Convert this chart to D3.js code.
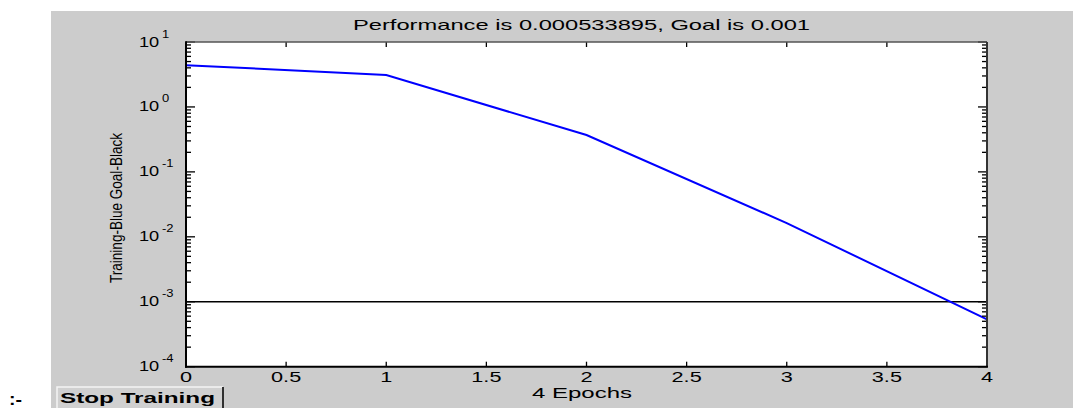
<!DOCTYPE html>
<html>
<head>
<meta charset="utf-8">
<script src="https://cdn.jsdelivr.net/npm/d3@7"></script>
<style>
  html, body { margin: 0; padding: 0; background: #ffffff; }
  svg { display: block; }
  text { font-family: "Liberation Sans", Arial, sans-serif; fill: #000; }
</style>
</head>
<body>
<svg id="chart" width="1073" height="408"></svg>
<script>
// ---- data ----
const epochs = [0, 1, 2, 3, 4];
const performance = [4.4, 3.1, 0.369, 0.0163, 0.000533895];
const goal = 0.001;
const xTicks = [0, 0.5, 1, 1.5, 2, 2.5, 3, 3.5, 4];
const xTickLabels = ["0", "0.5", "1", "1.5", "2", "2.5", "3", "3.5", "4"];
const yDecades = [1, 0, -1, -2, -3, -4];
const titleText = "Performance is 0.000533895, Goal is 0.001";
const xLabelText = "4 Epochs";
const yLabelText = "Training-Blue  Goal-Black";
const buttonText = "Stop Training";

// ---- layout ----
const svg = d3.select("#chart");
const plot = { left: 186, right: 987, top: 42, bottom: 366.7 };

const x = d3.scaleLinear().domain([0, 4]).range([plot.left, plot.right]);
const y = d3.scaleLog().domain([1e-4, 10]).range([plot.bottom, plot.top]);

// figure background
svg.append("rect").attr("x", 51).attr("y", 11).attr("width", 1022).attr("height", 397).attr("fill", "#cccccc");

// plot area
svg.append("rect")
  .attr("x", plot.left).attr("y", plot.top)
  .attr("width", plot.right - plot.left).attr("height", plot.bottom - plot.top)
  .attr("fill", "#ffffff");

// goal line
svg.append("line")
  .attr("x1", x(0)).attr("x2", x(4))
  .attr("y1", y(goal)).attr("y2", y(goal))
  .attr("stroke", "#000").attr("stroke-width", 1.6);

// performance line
const pts = epochs.map((e, i) => [e, performance[i]]);
svg.append("path")
  .datum(pts)
  .attr("fill", "none")
  .attr("stroke", "#0000ff")
  .attr("stroke-width", 2)
  .attr("d", d3.line().x(d => x(d[0])).y(d => y(d[1])));

// y ticks (major + minor), both sides, inward
const yMinor = [];
for (let d = -4; d <= 0; d++) for (let k = 2; k <= 9; k++) yMinor.push(k * Math.pow(10, d));
const tg = svg.append("g").attr("stroke", "#000").attr("stroke-width", 1.3);
yMinor.forEach(v => {
  tg.append("line").attr("x1", plot.left).attr("x2", plot.left + 5).attr("y1", y(v)).attr("y2", y(v));
  tg.append("line").attr("x1", plot.right).attr("x2", plot.right - 5).attr("y1", y(v)).attr("y2", y(v));
});
yDecades.forEach(d => {
  const v = Math.pow(10, d);
  tg.append("line").attr("x1", plot.left).attr("x2", plot.left + 9).attr("y1", y(v)).attr("y2", y(v));
  tg.append("line").attr("x1", plot.right).attr("x2", plot.right - 9).attr("y1", y(v)).attr("y2", y(v));
});
// x ticks, bottom and top, inward
xTicks.forEach(t => {
  tg.append("line").attr("x1", x(t)).attr("x2", x(t)).attr("y1", plot.bottom).attr("y2", plot.bottom - 5);
  tg.append("line").attr("x1", x(t)).attr("x2", x(t)).attr("y1", plot.top).attr("y2", plot.top + 5);
});

// axes box
svg.append("line").attr("x1", plot.left).attr("x2", plot.right).attr("y1", plot.top).attr("y2", plot.top)
  .attr("stroke", "#555").attr("stroke-width", 1.6);
svg.append("line").attr("x1", plot.right).attr("x2", plot.right).attr("y1", plot.top).attr("y2", plot.bottom)
  .attr("stroke", "#333").attr("stroke-width", 2);
svg.append("line").attr("x1", plot.left).attr("x2", plot.left).attr("y1", plot.top - 0.8).attr("y2", plot.bottom + 1)
  .attr("stroke", "#000").attr("stroke-width", 2);
svg.append("line").attr("x1", plot.left - 1).attr("x2", plot.right + 1).attr("y1", plot.bottom).attr("y2", plot.bottom)
  .attr("stroke", "#000").attr("stroke-width", 2);

// stretched text helper
function stext(str, tx, ty, size, sx, anchor, weight) {
  return svg.append("text")
    .attr("transform", `translate(${tx},${ty}) scale(${sx},1)`)
    .attr("font-size", size)
    .attr("text-anchor", anchor || "start")
    .attr("font-weight", weight || "normal")
    .attr("fill", "#222")
    .text(str);
}

// x tick labels
xTicks.forEach((t, i) => {
  stext(xTickLabels[i], x(t), 382, 14, 1.55, "middle");
});

// y tick labels: 10 with superscript exponent
yDecades.forEach(d => {
  const yy = y(Math.pow(10, d));
  stext("10", 139, yy + 4.5, 14, 1.3, "start");
  stext(String(d), 162, yy - 4.5, 10, 1.3, "start");
});

// title
svg.append("text")
  .attr("x", 353).attr("y", 30)
  .attr("font-size", 15)
  .attr("textLength", 457).attr("lengthAdjust", "spacingAndGlyphs")
  .attr("fill", "#222")
  .text(titleText);

// x label
svg.append("text")
  .attr("x", 532).attr("y", 398)
  .attr("font-size", 14)
  .attr("textLength", 100).attr("lengthAdjust", "spacingAndGlyphs")
  .attr("fill", "#222")
  .text(xLabelText);

// y label
svg.append("text")
  .attr("transform", "translate(122,283) rotate(-90)")
  .attr("font-size", 17)
  .attr("textLength", 150).attr("lengthAdjust", "spacingAndGlyphs")
  .attr("fill", "#222")
  .text(yLabelText);

// Stop Training button
const bx = 57, by = 387, bw = 166, bh = 22;
svg.append("rect").attr("x", bx).attr("y", by).attr("width", bw).attr("height", bh).attr("fill", "#d0d0d0");
svg.append("path").attr("d", `M${bx},${by + bh} V${by} H${bx + bw}`).attr("fill", "none").attr("stroke", "#f4f4f4").attr("stroke-width", 1.5);
svg.append("path").attr("d", `M${bx + bw},${by} V${by + bh}`).attr("fill", "none").attr("stroke", "#303030").attr("stroke-width", 2);
svg.append("text")
  .attr("x", 60).attr("y", 403)
  .attr("font-size", 15).attr("font-weight", "bold")
  .attr("textLength", 155).attr("lengthAdjust", "spacingAndGlyphs")
  .attr("fill", "#000")
  .text(buttonText);

// stray ":-" text at left
svg.append("text").attr("x", 9).attr("y", 405).attr("font-size", 17).attr("font-weight", "bold")
  .attr("textLength", 13).attr("lengthAdjust", "spacingAndGlyphs")
  .attr("fill", "#000").text(":-");
</script>
</body>
</html>
